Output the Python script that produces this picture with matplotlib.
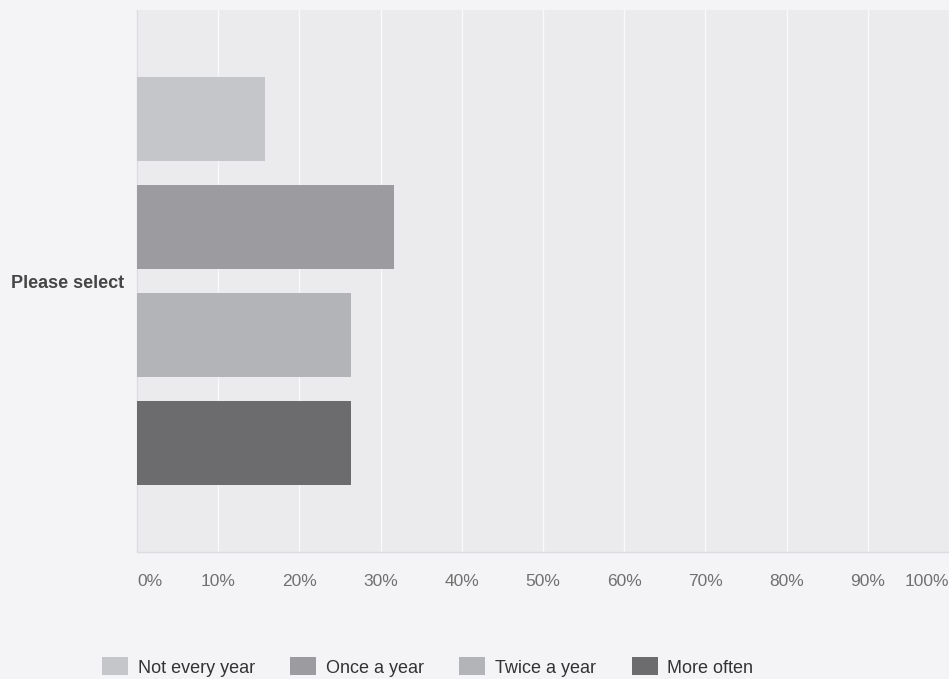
import matplotlib
matplotlib.use("Agg")
import matplotlib.pyplot as plt
from matplotlib.patches import Patch

# Survey responses for the single question row
category = "Please select"
series = ["Not every year", "Once a year", "Twice a year", "More often"]
values = [15.8, 31.6, 26.3, 26.3]          # percent of respondents
colors = ["#c5c6ca", "#9c9ca0", "#b3b4b8", "#6c6c6f"]
xticks = [0, 10, 20, 30, 40, 50, 60, 70, 80, 90, 100]
xtick_labels = [f"{t}%" for t in xticks]

plt.rcParams["font.family"] = ["Liberation Sans", "DejaVu Sans"]

W, H = 949, 679
fig = plt.figure(figsize=(W / 100, H / 100), dpi=100, facecolor="#f4f4f6")
left, right, top, bottom = 137, 949, 10, 552
ax = fig.add_axes([left / W, (H - bottom) / H, (right - left) / W, (bottom - top) / H])
ax.set_facecolor("#ebebee")

# bars stacked top to bottom around the single category
n = len(series)
offsets = [(n - 1) / 2 - i for i in range(n)]
for off, val, col in zip(offsets, values, colors):
    ax.barh(off, val, height=0.78, color=col, zorder=3)

ax.set_xlim(0, 100)
ax.set_ylim(-2.51, 2.51)

ax.set_xticks(xticks)
ax.xaxis.grid(True, color="#f9f9fb", linewidth=1.0, zorder=1)
ax.set_axisbelow(True)
ax.tick_params(axis="x", length=0, pad=16, labelsize=12.5, labelcolor="#707070")
ax.set_xticklabels(xtick_labels)
labels = ax.get_xticklabels()
labels[0].set_horizontalalignment("left")
labels[-1].set_horizontalalignment("right")

ax.set_yticks([0])
ax.set_yticklabels([category], fontsize=13, fontweight="bold", color="#454545")
ax.tick_params(axis="y", length=0, pad=9)

for side in ("top", "right"):
    ax.spines[side].set_visible(False)
for side in ("left", "bottom"):
    ax.spines[side].set_color("#dcdce0")
    ax.spines[side].set_linewidth(1.0)

handles = [Patch(facecolor=c, edgecolor="none") for c in colors]
fig.legend(handles, series, loc="center left", bbox_to_anchor=(102 / W, (H - 667) / H),
           ncol=4, frameon=False, fontsize=13, borderpad=0, borderaxespad=0,
           handlelength=1.44, handleheight=1.15, handletextpad=0.55,
           columnspacing=1.95, labelcolor="#333333")

fig.savefig("out.png", dpi=100, facecolor=fig.get_facecolor())
